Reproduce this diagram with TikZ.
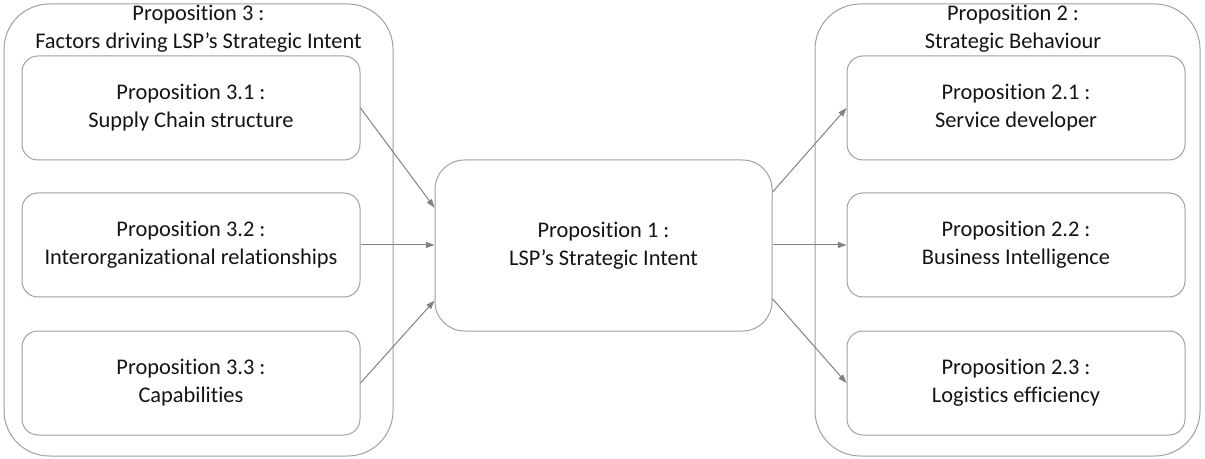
\documentclass[tikz,border=0pt]{standalone}
\usepackage{fontspec}
\setmainfont{Carlito}[Ligatures={NoCommon}]
\usetikzlibrary{arrows.meta,calc}
\definecolor{boxline}{RGB}{160,160,160}
\definecolor{arrline}{RGB}{130,130,130}
\definecolor{txt}{RGB}{20,20,20}
\tikzset{
  outerbox/.style={draw=boxline,line width=0.75pt,rounded corners=34pt,minimum width=#1,minimum height=339pt,inner sep=0pt},
  innerbox/.style={draw=boxline,line width=0.75pt,rounded corners=12pt,minimum width=253.5pt,minimum height=78pt,inner sep=0pt,align=center,font=\fontsize{16.8}{21}\selectfont,text=txt},
  centerbox/.style={draw=boxline,line width=0.75pt,rounded corners=22pt,minimum width=252.75pt,minimum height=128.25pt,inner sep=0pt,align=center,font=\fontsize{16.8}{21}\selectfont,text=txt},
  titletext/.style={align=center,font=\fontsize{16.8}{21}\selectfont,text=txt,inner sep=0pt},
  arr/.style={draw=arrline,line width=0.75pt,-{Triangle[length=6.5pt,width=4.5pt]}}
}
\begin{document}
\begin{tikzpicture}[x=0.75pt,y=-0.75pt]
\useasboundingbox (0,0) rectangle (1205,459);
% outer groups
\node[outerbox=291.75pt] (L) at (198.5,230) {};
\node[outerbox=288.75pt] (R) at (1007.5,230) {};
\node[titletext] (Lt) at (198.5,29) {Proposition 3 :\\Factors driving LSP’s Strategic Intent};
\node[titletext] (Rt) at (1013,29) {Proposition 2 :\\Strategic Behaviour};
% left inner
\node[innerbox] (b31) at (191,108) {Proposition 3.1 :\\Supply Chain structure};
\node[innerbox] (b32) at (191,245) {Proposition 3.2 :\\Interorganizational relationships};
\node[innerbox] (b33) at (191,383) {Proposition 3.3 :\\Capabilities};
% centre
\node[centerbox] (c) at (603.5,245.5) {Proposition 1 :\\LSP’s Strategic Intent};
% right inner
\node[innerbox] (b21) at (1016,108) {Proposition 2.1 :\\Service developer};
\node[innerbox] (b22) at (1016,245) {Proposition 2.2 :\\Business Intelligence};
\node[innerbox] (b23) at (1016,383) {Proposition 2.3 :\\Logistics efficiency};
% connectors
\draw[arr] (b31.east) -- ($(c.north west)!0.28!(c.south west)$);
\draw[arr] (b32.east) -- (c.west |- b32.east);
\draw[arr] (b33.east) -- ($(c.north west)!0.82!(c.south west)$);
\draw[arr] ($(c.north east)!0.19!(c.south east)$) -- (b21.west);
\draw[arr] (c.east |- b22.west) -- (b22.west);
\draw[arr] ($(c.north east)!0.81!(c.south east)$) -- (b23.west);
\end{tikzpicture}
\end{document}
